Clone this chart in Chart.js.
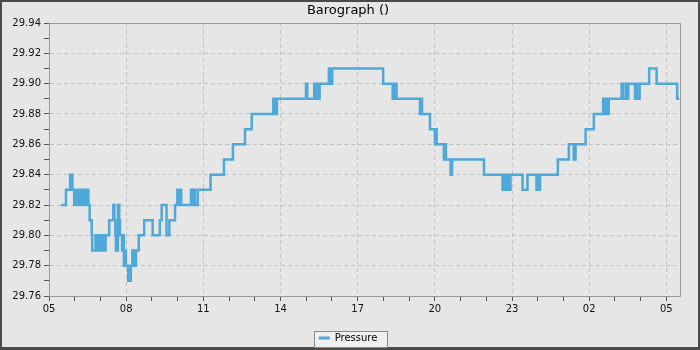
<!DOCTYPE html>
<html>
<head>
<meta charset="utf-8">
<style>
  html, body { margin: 0; padding: 0; background: #e6e6e6; }
  #wrap { width: 700px; height: 350px; }
</style>
<script src="https://cdn.jsdelivr.net/npm/chart.js@4/dist/chart.umd.min.js"></script>
</head>
<body>
<div id="wrap"><canvas id="c" width="700" height="350"></canvas></div>
<script>
// hours after 05:00 at which the reading changes
const times = [
  0.47, 0.66, 0.82, 0.91, 0.98, 1.08, 1.13, 1.20, 1.27, 1.31, 1.40, 1.44, 1.53, 1.58, 1.66, 1.68,
  1.81, 1.85, 1.90, 1.94, 1.99, 2.03, 2.10, 2.15, 2.20, 2.34, 2.50, 2.54, 2.58, 2.60, 2.68, 2.73,
  2.76, 2.84, 2.88, 2.91, 2.97, 2.99, 3.08, 3.18, 3.24, 3.29, 3.38, 3.49, 3.70, 4.03, 4.31, 4.38,
  4.57, 4.68, 4.90, 4.99, 5.04, 5.08, 5.14, 5.52, 5.57, 5.61, 5.67, 5.78, 6.28, 6.80, 7.15, 7.62,
  7.88, 8.72, 8.76, 8.78, 8.82, 8.86, 9.99, 10.04, 10.31, 10.35, 10.38, 10.48, 10.52, 10.88, 10.95, 11.01,
  12.99, 13.36, 13.40, 13.45, 13.47, 13.51, 14.42, 14.46, 14.50, 14.81, 15.00, 15.03, 15.07, 15.35, 15.39, 15.43,
  15.61, 15.67, 16.91, 17.63, 17.66, 17.70, 17.75, 17.83, 17.87, 17.90, 17.94, 18.41, 18.60, 18.95, 19.00, 19.03,
  19.09, 19.78, 20.21, 20.40, 20.47, 20.86, 21.18, 21.54, 21.57, 21.60, 21.67, 21.76, 22.26, 22.33, 22.44, 22.48,
  22.52, 22.78, 22.82, 22.86, 22.96, 23.33, 23.62, 24.42, 24.50
];
// barometric pressure, inHg
const pressure = [
  29.82, 29.83, 29.84, 29.83, 29.82, 29.83, 29.82, 29.83, 29.82, 29.83, 29.82, 29.83, 29.82, 29.81, 29.80, 29.79,
  29.80, 29.79, 29.80, 29.79, 29.80, 29.79, 29.80, 29.79, 29.80, 29.81, 29.82, 29.81, 29.80, 29.79, 29.82, 29.81,
  29.80, 29.79, 29.80, 29.78, 29.79, 29.78, 29.77, 29.78, 29.79, 29.78, 29.79, 29.80, 29.81, 29.80, 29.81, 29.82,
  29.80, 29.81, 29.82, 29.83, 29.82, 29.83, 29.82, 29.83, 29.82, 29.83, 29.82, 29.83, 29.84, 29.85, 29.86, 29.87,
  29.88, 29.89, 29.88, 29.89, 29.88, 29.89, 29.90, 29.89, 29.90, 29.89, 29.90, 29.89, 29.90, 29.91, 29.90, 29.91,
  29.90, 29.89, 29.90, 29.89, 29.90, 29.89, 29.88, 29.89, 29.88, 29.87, 29.86, 29.87, 29.86, 29.85, 29.86, 29.85,
  29.84, 29.85, 29.84, 29.83, 29.84, 29.83, 29.84, 29.83, 29.84, 29.83, 29.84, 29.83, 29.84, 29.83, 29.84, 29.83,
  29.84, 29.85, 29.86, 29.85, 29.86, 29.87, 29.88, 29.89, 29.88, 29.89, 29.88, 29.89, 29.90, 29.89, 29.90, 29.89,
  29.90, 29.89, 29.90, 29.89, 29.90, 29.91, 29.90, 29.89, 29.89
];
const xTickLabels = ['05', '08', '11', '14', '17', '20', '23', '02', '05'];
const seriesName = 'Pressure';
const chartTitle = 'Barograph ()';

const LINE = '#4ea8d9';
const FONT = 'DejaVu Sans';

const bgPlugin = {
  id: 'bg',
  beforeDraw(chart) {
    const ctx = chart.ctx;
    ctx.save();
    ctx.fillStyle = '#4a4a4a';
    ctx.fillRect(0, 0, chart.width, chart.height);
    ctx.fillStyle = '#e6e6e6';
    ctx.fillRect(2, 2, chart.width - 4, chart.height - 5);
    const hb = chart.legend && chart.legend.legendHitBoxes && chart.legend.legendHitBoxes[0];
    if (hb) {
      const x0 = Math.round(hb.left - 5) + 0.5;
      const x1 = Math.round(hb.left + hb.width + 10) + 0.5;
      const y0 = Math.round(hb.top - 2) + 0.5;
      const y1 = Math.round(hb.top + hb.height + 4) + 0.5;
      ctx.fillStyle = '#f0f0f0';
      ctx.fillRect(x0, y0, x1 - x0, y1 - y0);
      ctx.strokeStyle = '#8a8a8a';
      ctx.lineWidth = 1;
      ctx.strokeRect(x0, y0, x1 - x0, y1 - y0);
    }
    ctx.restore();
  },
  afterDraw(chart) {
    const a = chart.chartArea;
    const ctx = chart.ctx;
    ctx.save();
    ctx.strokeStyle = '#999999';
    ctx.lineWidth = 1;
    ctx.strokeRect(Math.round(a.left) + 0.5, Math.round(a.top) + 0.5,
                   Math.round(a.right - a.left), Math.round(a.bottom - a.top));
    ctx.restore();
  }
};

const points = times.map((t, i) => ({ x: t, y: pressure[i] }));

new Chart(document.getElementById('c'), {
  type: 'line',
  data: {
    datasets: [{
      label: seriesName,
      data: points,
      borderColor: LINE,
      backgroundColor: LINE,
      borderWidth: 2.5,
      pointRadius: 0,
      pointHoverRadius: 0,
      stepped: true,
      fill: false,
      tension: 0
    }]
  },
  options: {
    responsive: false,
    devicePixelRatio: 1,
    animation: false,
    events: [],
    layout: { padding: { top: 2, left: 2, right: 6, bottom: -3 } },
    plugins: {
      tooltip: { enabled: false },
      title: {
        display: true,
        text: chartTitle,
        color: '#000',
        font: { family: FONT, size: 13, weight: 'normal' },
        padding: { top: 1, bottom: 4.4 }
      },
      legend: {
        display: true,
        position: 'bottom',
        labels: {
          color: '#000',
          font: { family: FONT, size: 10 },
          boxWidth: 11,
          boxHeight: 3,
          padding: 5,
          generateLabels(chart) {
            const items = Chart.defaults.plugins.legend.labels.generateLabels(chart);
            items.forEach(it => { it.lineWidth = 0; it.fillStyle = LINE; });
            return items;
          }
        }
      }
    },
    scales: {
      x: {
        type: 'linear',
        min: 0,
        max: 24.53,
        afterFit(scale) { scale.height = 32; },
        ticks: {
          stepSize: 1,
          autoSkip: false,
          includeBounds: false,
          maxRotation: 0,
          padding: 2,
          color: '#111',
          font: { family: FONT, size: 10 },
          callback(v) {
            const r = Math.round(v);
            return r % 3 === 0 ? xTickLabels[r / 3] : '';
          }
        },
        grid: {
          color(ctx) {
            if (!ctx.tick) return 'transparent';
            return Math.round(ctx.tick.value) % 3 === 0 ? '#c2c2c2' : 'transparent';
          },
          tickColor: '#555',
          tickLength: 5,
          lineWidth: 1
        },
        border: { display: true, color: '#999999', width: 1, dash: [4, 3] }
      },
      y: {
        type: 'linear',
        min: 29.76,
        max: 29.94,
        afterFit(scale) { scale.width = 47; },
        ticks: {
          stepSize: 0.01,
          autoSkip: false,
          padding: 3,
          color: '#111',
          font: { family: FONT, size: 10 },
          callback(v) {
            const k = Math.round(v * 100);
            return k % 2 === 0 ? (k / 100).toFixed(2) : '';
          }
        },
        grid: {
          color(ctx) {
            if (!ctx.tick) return 'transparent';
            return Math.round(ctx.tick.value * 100) % 2 === 0 ? '#c2c2c2' : 'transparent';
          },
          tickColor: '#555',
          tickLength: 5,
          lineWidth: 1
        },
        border: { display: true, color: '#999999', width: 1, dash: [4, 3] }
      },
      yPad: {
        type: 'linear',
        position: 'right',
        display: true,
        afterFit(scale) { scale.width = 14; },
        ticks: { display: false },
        grid: { display: false, drawTicks: false },
        border: { display: false }
      }
    }
  },
  plugins: [bgPlugin]
});
</script>
</body>
</html>
